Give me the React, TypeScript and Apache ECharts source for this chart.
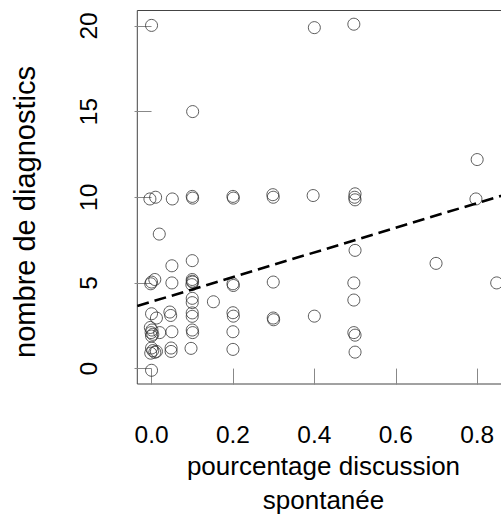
import React, { useEffect, useRef } from "react";
import * as echarts from "echarts";

// percentage of spontaneous discussion (x) and number of diagnostics (y)
const pctDiscussion = [
  0.0, -0.004, 0.01, -0.002, 0.0, 0.008, 0.0, 0.012, -0.003, 0.001, -0.001, 0.003, 0.0, 0.02,
  0.0, 0.003, 0.008, -0.002, 0.012, 0.0, 0.019,
  0.051, 0.05, 0.05, 0.045, 0.047, 0.05, 0.048, 0.048,
  0.101, 0.1, 0.101, 0.1, 0.1, 0.101, 0.099, 0.1, 0.1, 0.1, 0.1, 0.1, 0.1, 0.101, 0.097,
  0.152,
  0.2, 0.201, 0.2, 0.201, 0.2, 0.201, 0.2, 0.2,
  0.298, 0.299, 0.299, 0.299, 0.3,
  0.4, 0.397, 0.4,
  0.497, 0.5, 0.499, 0.5, 0.5, 0.497, 0.497, 0.497, 0.5, 0.5,
  0.699, 0.8, 0.797, 0.848,
];
const nbDiagnostics = [
  20.03, 9.9, 10.0, 4.95, 5.05, 5.2, 3.2, 2.95, 2.4, 2.25, 2.1, 2.0, 1.9, 2.1,
  1.2, 1.05, 0.95, 0.9, 1.0, -0.1, 7.85,
  9.9, 6.0, 5.0, 3.3, 3.1, 2.15, 1.2, 1.0,
  15.0, 10.05, 9.95, 6.3, 5.2, 5.05, 4.9, 5.1, 4.1, 3.85, 3.25, 3.05, 2.25, 2.1, 1.18,
  3.9,
  10.05, 9.95, 4.95, 4.85, 3.26, 3.06, 2.15, 1.12,
  10.15, 10.0, 5.05, 2.95, 2.85,
  19.9, 10.1, 3.06,
  20.1, 10.2, 10.0, 9.85, 6.9, 5.0, 4.0, 2.1, 1.95, 0.96,
  6.14, 12.2, 9.9, 5.0,
];

const xTicks = [0, 0.2, 0.4, 0.6, 0.8];
const yTicks = [0, 5, 10, 15, 20];

// fitted regression line
const fitIntercept = 3.9;
const fitSlope = 7.2;

const X_MIN = -0.035;
const X_MAX = 0.905;
const Y_MIN = -0.9;
const Y_MAX = 20.9;

const FONT = "'Liberation Sans', Arial, sans-serif";

export default function App() {
  const ref = useRef<HTMLDivElement>(null);

  useEffect(() => {
    if (!ref.current) return;
    const chart = echarts.init(ref.current, undefined, { renderer: "svg" });
    const points = pctDiscussion.map((x, i) => [x, nbDiagnostics[i]]);
    const fitLine = [X_MIN, X_MAX].map((x) => [x, fitIntercept + fitSlope * x]);

    chart.setOption({
      animation: false,
      backgroundColor: "#ffffff",
      grid: {
        left: 137.3,
        top: 10.5,
        width: 382.6,
        height: 373.5,
        show: true,
        borderColor: "#444",
        borderWidth: 1,
        backgroundColor: "transparent",
      },
      xAxis: {
        type: "value",
        min: X_MIN,
        max: X_MAX,
        axisLine: { show: false },
        splitLine: { show: false },
        axisTick: {
          show: true,
          length: 16,
          customValues: xTicks,
          lineStyle: { color: "#888", width: 1 },
        },
        axisLabel: {
          customValues: xTicks,
          margin: 38,
          fontSize: 24.5,
          fontFamily: FONT,
          color: "#000",
          formatter: (v: number) => v.toFixed(1),
        },
      },
      yAxis: {
        type: "value",
        min: Y_MIN,
        max: Y_MAX,
        axisLine: { show: false },
        splitLine: { show: false },
        axisTick: {
          show: true,
          length: 17,
          customValues: yTicks,
          lineStyle: { color: "#888", width: 1 },
        },
        axisLabel: {
          customValues: yTicks,
          rotate: 90,
          margin: 36,
          fontSize: 24.5,
          fontFamily: FONT,
          color: "#000",
          formatter: (v: number) => String(Math.round(v)),
        },
      },
      graphic: [
        {
          type: "text",
          x: 323.5,
          y: 466,
          style: {
            text: "pourcentage discussion",
            fontSize: 26,
            fontFamily: FONT,
            fill: "#000",
            align: "center",
            verticalAlign: "middle",
          },
        },
        {
          type: "text",
          x: 323.5,
          y: 500,
          style: {
            text: "spontanée",
            fontSize: 26,
            fontFamily: FONT,
            fill: "#000",
            align: "center",
            verticalAlign: "middle",
          },
        },
        {
          type: "text",
          x: 24.5,
          y: 212,
          rotation: Math.PI / 2,
          style: {
            text: "nombre de diagnostics",
            fontSize: 29,
            fontFamily: FONT,
            fill: "#000",
            align: "center",
            verticalAlign: "middle",
          },
        },
      ],
      series: [
        {
          type: "scatter",
          data: points,
          symbol: "circle",
          symbolSize: 12,
          itemStyle: {
            color: "transparent",
            borderColor: "#333",
            borderWidth: 1,
          },
          z: 2,
        },
        {
          type: "line",
          data: fitLine,
          showSymbol: false,
          symbol: "none",
          lineStyle: { color: "#000", width: 2.6, type: [12, 6] },
          z: 3,
        },
      ],
    });
    return () => chart.dispose();
  }, []);

  return (
    <div
      style={{
        position: "absolute",
        left: 0,
        top: 0,
        width: 501,
        height: 515,
        overflow: "hidden",
      }}
    >
      <div ref={ref} style={{ width: 540, height: 515 }} />
    </div>
  );
}
